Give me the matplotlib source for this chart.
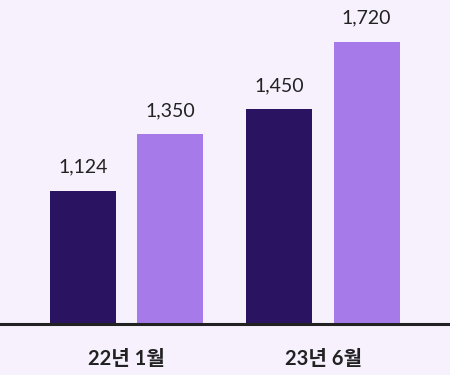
import matplotlib
matplotlib.use("Agg")
import matplotlib.pyplot as plt
import numpy as np

categories = ["22년 1월", "23년 6월"]
series_a = [1124, 1450]
series_b = [1350, 1720]

bg = "#f7f1fd"
dark = "#2a1462"
light = "#a67be9"

fig = plt.figure(figsize=(4.5, 3.75), dpi=100, facecolor=bg)
ax = fig.add_axes([0, 51/375, 1, 324/375])
ax.set_facecolor(bg)

x = np.arange(len(categories))
w = 0.336
off = 0.222
ba = ax.bar(x - off, series_a, w, color=dark, zorder=2)
bb = ax.bar(x + off, series_b, w, color=light, zorder=2)

for rects, vals in ((ba, series_a), (bb, series_b)):
    for r, v in zip(rects, vals):
        ax.annotate(f"{v:,}", (r.get_x() + r.get_width()/2, v),
                    xytext=(0, 11), textcoords="offset points",
                    ha="center", va="bottom", fontsize=14,
                    family=["Lato", "DejaVu Sans"], color="#222222")

ax.set_xlim(-0.646, 1.647)
ax.set_ylim(592, 1886)
ax.set_xticks(x)
ax.set_xticklabels(categories, fontsize=14.5, fontweight="bold",
                   family=["Lato", "Noto Sans CJK KR"], color="#222222")
ax.tick_params(axis="x", length=0, pad=18)
ax.set_yticks([])
for s in ["top", "right", "left"]:
    ax.spines[s].set_visible(False)
ax.spines["bottom"].set_color("#222222")
ax.spines["bottom"].set_linewidth(2.2)
ax.spines["bottom"].set_zorder(3)

fig.savefig("out.png", dpi=100, facecolor=bg)
